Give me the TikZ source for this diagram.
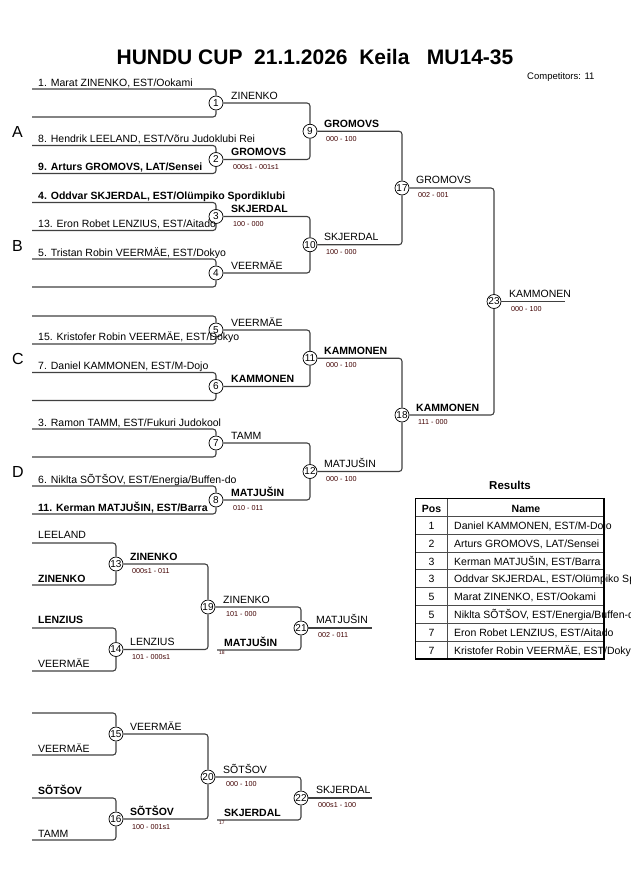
\documentclass[tikz,border=0pt]{standalone}
\usepackage{fontspec}
\setmainfont{Liberation Sans}
\begin{document}
\begin{tikzpicture}[x=1pt,y=-1pt,
  bl/.style={draw=black!75, line width=1.1pt, rounded corners=3pt},
  mc/.style={circle, draw=black, line width=0.7pt, fill=white, minimum size=14pt, inner sep=0pt, font=\fontsize{10}{10}\selectfont},
  nm/.style={anchor=base west, inner sep=0pt, font=\fontsize{10.5}{12}\selectfont},
  nmb/.style={anchor=base west, inner sep=0pt, font=\fontsize{10.5}{12}\selectfont\bfseries},
  sc/.style={anchor=base west, inner sep=0pt, text=black!75!red, font=\fontsize{7.2}{8}\selectfont},
  tiny/.style={anchor=base west, inner sep=0pt, text=black!75!red, font=\fontsize{5}{6}\selectfont},
  grp/.style={anchor=base west, inner sep=0pt, font=\fontsize{16}{18}\selectfont},
  tline/.style={draw=black!70, line width=0.9pt},
  tborder/.style={draw=black, line width=1.8pt}
]
\useasboundingbox (0,0) rectangle (630,891);

% ---------- title ----------
\node[anchor=base, inner sep=0pt, font=\fontsize{21}{24}\selectfont\bfseries] (title) at (315,65) {HUNDU CUP\ \ 21.1.2026\ \ Keila\ \ \ MU14-35};
\node[anchor=base west, inner sep=0pt, font=\fontsize{9.5}{11}\selectfont] (comp) at (527,79) {Competitors: 11};

% ---------- match circles (main bracket) ----------
\node[mc] (m1) at (216,103) {1};
\node[mc] (m2) at (216,159.5) {2};
\node[mc] (m3) at (216,216.5) {3};
\node[mc] (m4) at (216,273) {4};
\node[mc] (m5) at (216,330) {5};
\node[mc] (m6) at (216,386.5) {6};
\node[mc] (m7) at (216,443) {7};
\node[mc] (m8) at (216,500) {8};
\node[mc] (m9) at (310,131.25) {9};
\node[mc] (m10) at (310,244.75) {10};
\node[mc] (m11) at (310,358.25) {11};
\node[mc] (m12) at (310,471.5) {12};
\node[mc] (m17) at (402,188) {17};
\node[mc] (m18) at (402,415) {18};
\node[mc] (m23) at (494,301.5) {23};

% ---------- repechage circles ----------
\node[mc] (m13) at (116,564) {13};
\node[mc] (m14) at (116,649.5) {14};
\node[mc] (m19) at (208,607) {19};
\node[mc] (m21) at (301,628) {21};
\node[mc] (m15) at (116,734) {15};
\node[mc] (m16) at (116,819) {16};
\node[mc] (m20) at (208,777) {20};
\node[mc] (m22) at (301,798) {22};

% ---------- free line ends ----------
\foreach \k/\c in {1/103,2/159.5,3/216.5,4/273,5/330,6/386.5,7/443,8/500}{
  \coordinate (pa\k) at (32,\c-14);
  \coordinate (pb\k) at (32,\c+14);
}
\coordinate (pa13) at (32,543);  \coordinate (pb13) at (32,585);
\coordinate (pa14) at (32,628);  \coordinate (pb14) at (32,671);
\coordinate (pa15) at (32,713);  \coordinate (pb15) at (32,755);
\coordinate (pa16) at (32,798);  \coordinate (pb16) at (32,840);
\coordinate (q21) at (217,650);
\coordinate (q22) at (217,820);
\coordinate (w21) at (372,628);
\coordinate (w22) at (372,798);
\coordinate (w23) at (565,301.5);

% ---------- connectors ----------
\foreach \k in {1,...,8,13,14,15,16}{
  \draw[bl] (pa\k) -| (m\k.north);
  \draw[bl] (pb\k) -| (m\k.south);
}
\draw[bl] (m1.east) -| (m9.north);
\draw[bl] (m2.east) -| (m9.south);
\draw[bl] (m3.east) -| (m10.north);
\draw[bl] (m4.east) -| (m10.south);
\draw[bl] (m5.east) -| (m11.north);
\draw[bl] (m6.east) -| (m11.south);
\draw[bl] (m7.east) -| (m12.north);
\draw[bl] (m8.east) -| (m12.south);
\draw[bl] (m9.east) -| (m17.north);
\draw[bl] (m10.east) -| (m17.south);
\draw[bl] (m11.east) -| (m18.north);
\draw[bl] (m12.east) -| (m18.south);
\draw[bl] (m17.east) -| (m23.north);
\draw[bl] (m18.east) -| (m23.south);
\draw[bl] (m23.east) -- (w23);

\draw[bl] (m13.east) -| (m19.north);
\draw[bl] (m14.east) -| (m19.south);
\draw[bl] (m19.east) -| (m21.north);
\draw[bl] (q21) -| (m21.south);
\draw[bl] (m21.east) -- (w21);
\draw[bl] (m15.east) -| (m20.north);
\draw[bl] (m16.east) -| (m20.south);
\draw[bl] (m20.east) -| (m22.north);
\draw[bl] (q22) -| (m22.south);
\draw[bl] (m22.east) -- (w22);

% ---------- group letters ----------
\node[grp] (gA) at (12,137) {A};
\node[grp] (gB) at (12,251) {B};
\node[grp] (gC) at (12,364) {C};
\node[grp] (gD) at (12,477) {D};

% ---------- first round names ----------
\node[nm]  (n1)  at (38,86)    {1. Marat ZINENKO, EST/Ookami};
\node[nm]  (n8)  at (38,142)   {8. Hendrik LEELAND, EST/Võru Judoklubi Rei};
\node[nmb] (n9)  at (38,170)   {9. Arturs GROMOVS, LAT/Sensei};
\node[nmb] (n4)  at (38,199.5) {4. Oddvar SKJERDAL, EST/Olümpiko Spordiklubi};
\node[nm]  (n13) at (38,227.5) {13. Eron Robet LENZIUS, EST/Aitado};
\node[nm]  (n5)  at (38,256)   {5. Tristan Robin VEERMÄE, EST/Dokyo};
\node[nm]  (n15) at (38,340)   {15. Kristofer Robin VEERMÄE, EST/Dokyo};
\node[nm]  (n7)  at (38,369.5) {7. Daniel KAMMONEN, EST/M-Dojo};
\node[nm]  (n3)  at (38,426)   {3. Ramon TAMM, EST/Fukuri Judokool};
\node[nm]  (n6)  at (38,483)   {6. Niklta SÕTŠOV, EST/Energia/Buffen-do};
\node[nmb] (n11) at (38,511)   {11. Kerman MATJUŠIN, EST/Barra};

% ---------- winners & scores ----------
\node[nm]  (w1l) at (231,99)    {ZINENKO};
\node[nmb] (w2l) at (231,155.5) {GROMOVS};
\node[sc]  (s2)  at (233,169.5) {000s1 - 001s1};
\node[nmb] (w3l) at (231,212.5) {SKJERDAL};
\node[sc]  (s3)  at (233,226)   {100 - 000};
\node[nm]  (w4l) at (231,269)   {VEERMÄE};
\node[nm]  (w5l) at (231,326)   {VEERMÄE};
\node[nmb] (w6l) at (231,382.5) {KAMMONEN};
\node[nm]  (w7l) at (231,439)   {TAMM};
\node[nmb] (w8l) at (231,496)   {MATJUŠIN};
\node[sc]  (s8)  at (233,510)   {010 - 011};

\node[nmb] (w9l)  at (324,127)   {GROMOVS};
\node[sc]  (s9)   at (326,141)   {000 - 100};
\node[nm]  (w10l) at (324,240.5) {SKJERDAL};
\node[sc]  (s10)  at (326,254)   {100 - 000};
\node[nmb] (w11l) at (324,354)   {KAMMONEN};
\node[sc]  (s11)  at (326,367.5) {000 - 100};
\node[nm]  (w12l) at (324,467.5) {MATJUŠIN};
\node[sc]  (s12)  at (326,481)   {000 - 100};
\node[nm]  (w17l) at (416,183.5) {GROMOVS};
\node[sc]  (s17)  at (418,197.5) {002 - 001};
\node[nmb] (w18l) at (416,411)   {KAMMONEN};
\node[sc]  (s18)  at (418,424.5) {111 - 000};
\node[nm]  (w23l) at (509,297)   {KAMMONEN};
\node[sc]  (s23)  at (511,311)   {000 - 100};

% ---------- repechage labels ----------
\node[nm]  (r1)  at (38,538)   {LEELAND};
\node[nmb] (r2)  at (38,582)   {ZINENKO};
\node[nmb] (w13l) at (130,560) {ZINENKO};
\node[sc]  (s13) at (132,573.5) {000s1 - 011};
\node[nmb] (r3)  at (38,623)   {LENZIUS};
\node[nm]  (r4)  at (38,667)   {VEERMÄE};
\node[nm]  (w14l) at (130,645.5) {LENZIUS};
\node[sc]  (s14) at (132,659)  {101 - 000s1};
\node[nm]  (w19l) at (223,603) {ZINENKO};
\node[sc]  (s19) at (226,616.5) {101 - 000};
\node[nmb] (r5)  at (224,646)  {MATJUŠIN};
\node[tiny] (t18) at (219,654) {18};
\node[nm]  (w21l) at (316,623.5) {MATJUŠIN};
\node[sc]  (s21) at (318,637)  {002 - 011};

\node[nm]  (r6)  at (38,752)   {VEERMÄE};
\node[nm]  (w15l) at (130,730) {VEERMÄE};
\node[nmb] (r7)  at (38,794)   {SÕTŠOV};
\node[nm]  (r8)  at (38,837)   {TAMM};
\node[nmb] (w16l) at (130,815) {SÕTŠOV};
\node[sc]  (s16) at (132,829)  {100 - 001s1};
\node[nm]  (w20l) at (223,773) {SÕTŠOV};
\node[sc]  (s20) at (226,786.5) {000 - 100};
\node[nmb] (r9)  at (224,816)  {SKJERDAL};
\node[tiny] (t17) at (219,824) {17};
\node[nm]  (w22l) at (316,793.5) {SKJERDAL};
\node[sc]  (s22) at (318,807)  {000s1 - 100};

% ---------- results table ----------
\node[anchor=base, inner sep=0pt, font=\fontsize{11.5}{13}\selectfont\bfseries] (restitle) at (510,489) {Results};
\foreach \i in {1,...,7}{
  \draw[tline] (415.5,516.5+\i*17.8) -- (604,516.5+\i*17.8);
}
\draw[tline] (415.5,516.5) -- (604,516.5);
\draw[tline] (447,498.5) -- (447,659);
\draw[tborder] (415.5,498.5) rectangle (604,659);
\node[anchor=base, inner sep=0pt, font=\fontsize{10.5}{12}\selectfont\bfseries] (hpos) at (431.5,512) {Pos};
\node[anchor=base, inner sep=0pt, font=\fontsize{10.5}{12}\selectfont\bfseries] (hname) at (526,512) {Name};
\foreach \i/\p/\n in {1/1/{Daniel KAMMONEN, EST/M-Dojo},
                      2/2/{Arturs GROMOVS, LAT/Sensei},
                      3/3/{Kerman MATJUŠIN, EST/Barra},
                      4/3/{Oddvar SKJERDAL, EST/Olümpiko Spordiklubi},
                      5/5/{Marat ZINENKO, EST/Ookami},
                      6/5/{Niklta SÕTŠOV, EST/Energia/Buffen-do},
                      7/7/{Eron Robet LENZIUS, EST/Aitado},
                      8/7/{Kristofer Robin VEERMÄE, EST/Dokyo}}{
  \node[anchor=base, inner sep=0pt, font=\fontsize{10.5}{12}\selectfont] (pos\i) at (431.5,516.5+\i*17.8-4.8) {\p};
  \node[nm] (name\i) at (454,516.5+\i*17.8-4.8) {\n};
}
\end{tikzpicture}
\end{document}
